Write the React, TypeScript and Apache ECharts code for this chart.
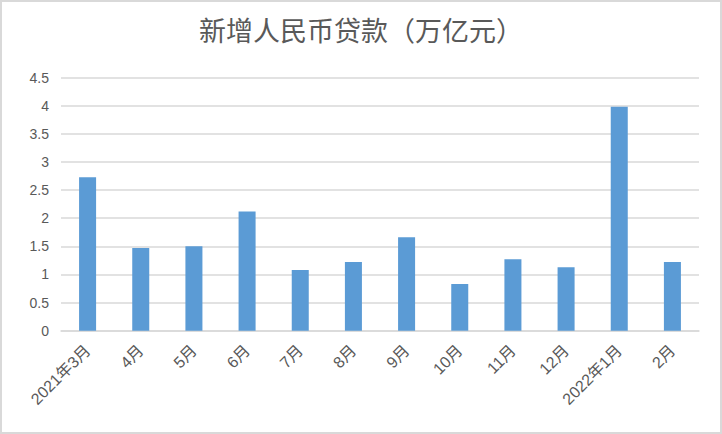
import React, { useEffect, useRef } from "react";
import * as echarts from "echarts";

const titleText = "新增人民币贷款（万亿元）";
const categories = [
  "2021年3月", "4月", "5月", "6月", "7月", "8月", "9月", "10月", "11月", "12月", "2022年1月", "2月",
];
const loanValues = [2.73, 1.47, 1.5, 2.12, 1.08, 1.22, 1.66, 0.83, 1.27, 1.13, 3.98, 1.22];
const yMin = 0;
const yMax = 4.5;
const yStep = 0.5;

export default function App() {
  const ref = useRef<HTMLDivElement>(null);
  useEffect(() => {
    if (!ref.current) return;
    const chart = echarts.init(ref.current, undefined, { renderer: "svg" });
    const font = "'Liberation Sans', 'Noto Sans CJK SC', sans-serif";
    chart.setOption({
      animation: false,
      backgroundColor: "#ffffff",
      title: {
        text: titleText,
        left: "center",
        top: 9,
        textStyle: {
          fontSize: 27,
          fontWeight: "normal",
          color: "#595959",
          fontFamily: "'Noto Sans CJK SC', sans-serif",
        },
      },
      grid: { left: 59, right: 21, top: 75.6, bottom: 101.3, containLabel: false },
      xAxis: {
        type: "category",
        data: categories,
        axisTick: { show: false },
        axisLine: { lineStyle: { color: "#d9d9d9", width: 1.5 } },
        axisLabel: {
          rotate: 45,
          interval: 0,
          fontSize: 16,
          color: "#595959",
          fontFamily: font,
          margin: 17,
        },
      },
      yAxis: {
        type: "value",
        min: yMin,
        max: yMax,
        interval: yStep,
        axisLine: { show: false },
        axisTick: { show: false },
        splitLine: { lineStyle: { color: "#d9d9d9", width: 1.5 } },
        axisLabel: {
          fontSize: 14,
          color: "#595959",
          fontFamily: font,
          margin: 12,
        },
      },
      series: [
        {
          type: "bar",
          data: loanValues,
          barWidth: "32%",
          itemStyle: { color: "#5b9bd5" },
        },
      ],
    });
    return () => chart.dispose();
  }, []);
  return (
    <div
      ref={ref}
      style={{
        position: "fixed",
        left: 0,
        top: 0,
        width: 722,
        height: 434,
        boxSizing: "border-box",
        border: "2px solid #d9d9d9",
        background: "#fff",
      }}
    />
  );
}
